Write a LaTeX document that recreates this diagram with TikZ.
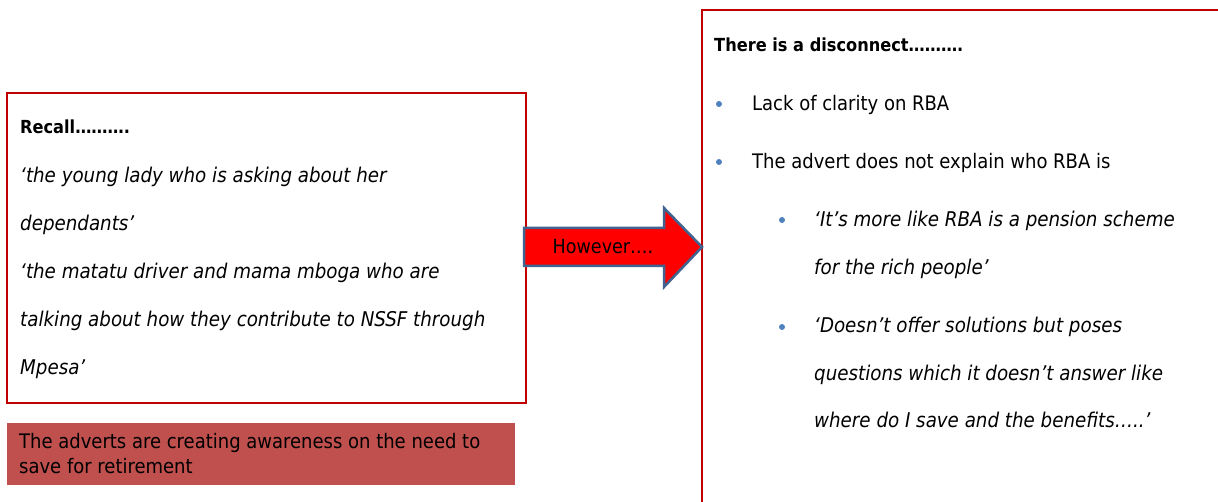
\documentclass[tikz,border=0pt]{standalone}
\usepackage{fontspec}
\setmainfont{DejaVu Sans Condensed}
\definecolor{boxred}{HTML}{C00000}
\definecolor{notered}{HTML}{C0504D}
\definecolor{arrowblue}{HTML}{41638F}
\definecolor{bulletblue}{HTML}{4F81BD}
\tikzset{
  txt/.style={anchor=base west, inner sep=0pt, font=\fontsize{20}{22}\selectfont},
  itxt/.style={txt, font=\fontsize{20.3}{22}\selectfont\itshape},
  btxt/.style={txt, font=\fontsize{18}{20}\selectfont\bfseries},
  redbox/.style={draw=boxred, line width=2pt},
  dot/.style={circle, fill=bulletblue, inner sep=0pt, minimum size=6pt},
}
\begin{document}
\begin{tikzpicture}[x=1pt,y=-1pt]
\useasboundingbox (0,0) rectangle (1218,502);
% left box
\draw[redbox] (7,93) rectangle (526,403);
\node[btxt] (r0) at (20,134) {Recall……….};
\node[itxt] (r1) at (20,183) {‘the young lady who is asking about her};
\node[itxt] (r2) at (20,231) {dependants’};
\node[itxt] (r3) at (20,279) {‘the matatu driver and mama mboga who are};
\node[itxt] (r4) at (20,327) {talking about how they contribute to NSSF through};
\node[itxt] (r5) at (20,375) {Mpesa’};
% note
\fill[notered] (7,423) rectangle (515,485);
\node[txt] (n1) at (19,448) {The adverts are creating awareness on the need to};
\node[txt] (n2) at (19,473) {save for retirement};
% right box
\draw[redbox] (702,10) rectangle (1240,530);
\node[btxt] (t0) at (714,52) {There is a disconnect……….};
\node[dot] (b1) at (719,104) {};
\node[txt] (t1) at (752,111) {Lack of clarity on RBA};
\node[dot] (b2) at (719,162) {};
\node[txt] (t2) at (752,169) {The advert does not explain who RBA is};
\node[dot] (b3) at (782,220) {};
\node[itxt] (t3) at (814,227) {‘It’s more like RBA is a pension scheme};
\node[itxt] (t4) at (814,275) {for the rich people’};
\node[dot] (b4) at (782,327) {};
\node[itxt] (t5) at (814,333) {‘Doesn’t offer solutions but poses};
\node[itxt] (t6) at (814,381) {questions which it doesn’t answer like};
\node[itxt] (t7) at (814,428) {where do I save and the benefits…..’};
% arrow
\draw[fill=red, draw=arrowblue, line width=2.5pt, line join=miter]
  (524,228) -- (664,228) -- (664,208) -- (702,247) -- (664,287) -- (664,266) -- (524,266) -- cycle;
\node[anchor=center, inner sep=0pt, font=\fontsize{19.5}{22}\selectfont] (hw) at (603,247) {However….};
\end{tikzpicture}
\end{document}
